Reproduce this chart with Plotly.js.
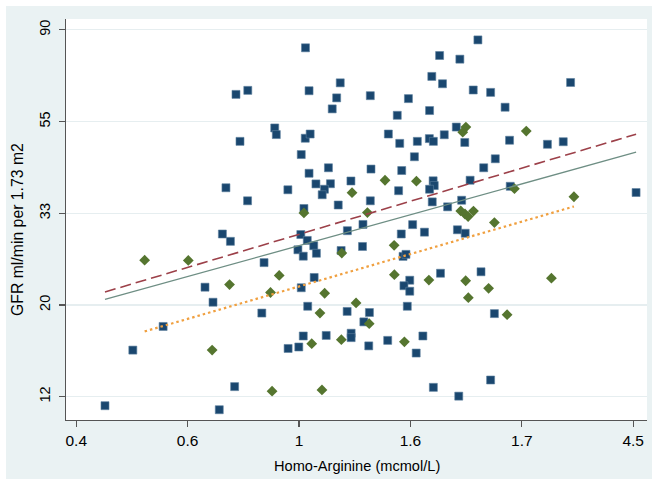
<!DOCTYPE html>
<html>
<head>
<meta charset="utf-8">
<script src="https://cdn.plot.ly/plotly-3.0.1.min.js"></script>
<style>
html,body{margin:0;padding:0;background:#ffffff;width:658px;height:486px;overflow:hidden;}
#chart{position:absolute;left:6px;top:6px;width:646px;height:473px;}
</style>
</head>
<body>
<div id="chart"></div>
<script>
// Axes are natural-log scales: ln(Homo-Arginine) and ln(GFR); tick labels show exp values.
var xTickVals = [-1, -0.5, 0, 0.5, 1, 1.5];
var xTickText = ['0.4', '0.6', '1', '1.6', '1.7', '4.5'];
var yTickVals = [2.5, 3, 3.5, 4, 4.5];
var yTickText = ['12', '20', '33', '55', '90'];
var xTitle = 'Homo-Arginine (mcmol/L)';
var yTitle = 'GFR ml/min per 1.73 m2';

// Group 1 (navy squares): ln(Homo-Arginine), ln(GFR)
var navyLnHArg = [
  0.029,-0.283,-0.230,0.045,0.185,0.169,0.149,0.320,-0.109,-0.102,
  -0.265,0.028,0.050,0.010,0.045,0.132,0.323,0.076,0.141,0.114,
  0.104,0.233,-0.328,-0.231,-0.050,0.176,0.320,0.022,0.803,0.631,
  0.722,0.596,0.644,0.782,0.860,0.491,0.925,0.441,0.586,1.219,
  0.401,0.452,0.531,0.585,0.603,0.652,0.706,0.744,0.945,1.115,
  1.186,0.518,0.461,0.829,0.881,0.602,0.607,0.586,0.768,0.447,
  0.948,1.513,0.598,0.730,0.667,0.510,0.459,0.563,0.711,0.746,
  0.217,0.287,0.285,0.189,-0.344,-0.308,0.008,0.037,0.066,-0.005,
  0.019,0.078,-0.157,-0.422,-0.386,0.010,0.068,0.039,-0.167,-0.610,
  -0.746,-0.049,-0.001,0.019,0.122,-0.289,-0.871,-0.358,0.216,0.316,
  0.291,0.234,0.234,0.313,0.398,0.467,0.480,0.635,0.817,0.497,
  0.471,0.497,0.486,0.877,0.556,0.526,0.603,0.860,0.717
];
var navyLnGFR = [
  4.402,4.148,4.170,4.168,4.211,4.129,4.069,4.141,3.965,3.929,
  3.892,3.909,3.932,3.820,3.718,3.748,3.741,3.660,3.661,3.631,
  3.601,3.676,3.639,3.568,3.628,3.545,3.568,3.526,4.445,4.360,
  4.340,4.246,4.206,4.172,4.159,4.125,4.078,4.034,4.060,4.213,
  3.932,3.881,3.892,3.907,3.892,3.928,3.970,3.886,3.898,3.876,
  3.890,3.808,3.733,3.748,3.797,3.677,3.651,3.631,3.680,3.623,
  3.647,3.613,3.562,3.571,3.535,3.438,3.387,3.397,3.410,3.391,
  3.405,3.439,3.319,3.297,3.387,3.347,3.384,3.352,3.323,3.301,
  3.266,3.282,3.231,3.097,3.015,3.094,3.150,2.993,2.956,2.883,
  2.754,2.763,2.771,2.831,2.834,2.555,2.451,2.429,2.965,2.959,
  2.908,2.846,2.822,2.777,2.807,3.265,3.276,3.173,3.181,3.135,
  3.105,3.075,2.993,2.953,2.831,2.738,2.551,2.591,2.503
];

// Group 2 (green diamonds): ln(Homo-Arginine), ln(GFR)
var greenLnHArg = [
  0.022,0.238,0.386,0.527,0.307,0.749,0.735,1.020,0.967,0.726,
  0.745,0.783,0.759,0.877,1.234,0.427,0.192,-0.693,-0.497,-0.089,
  -0.312,-0.128,0.115,0.094,-0.390,0.057,-0.121,0.103,0.256,0.315,
  0.190,0.428,0.583,0.748,0.851,0.760,0.934,0.473,1.133
];
var greenLnGFR = [
  3.502,3.612,3.680,3.675,3.504,3.970,3.942,3.948,3.634,3.513,
  3.496,3.512,3.482,3.449,3.590,3.325,3.283,3.244,3.243,3.161,
  3.111,3.068,3.064,2.956,2.754,2.789,2.530,2.537,3.011,2.898,
  2.811,3.165,3.136,3.132,3.091,3.040,2.947,2.799,3.146
];

// Linear fits (endpoints in ln units)
var fitNavyX = [-0.871, 1.513];
var fitNavyY = [3.071, 3.931];
var fitAllX = [-0.871, 1.513];
var fitAllY = [3.030, 3.833];
var fitGreenX = [-0.693, 1.234];
var fitGreenY = [2.856, 3.537];

var traces = [
  {x: navyLnHArg, y: navyLnGFR, type: 'scatter', mode: 'markers',
   marker: {symbol: 'square', size: 8, color: '#1a476f', line: {width: 0.6, color: '#5d7f9e'}},
   hoverinfo: 'x+y', showlegend: false},
  {x: greenLnHArg, y: greenLnGFR, type: 'scatter', mode: 'markers',
   marker: {symbol: 'diamond', size: 8.3, color: '#55752f', line: {width: 0}},
   hoverinfo: 'x+y', showlegend: false},
  {x: fitNavyX, y: fitNavyY, type: 'scatter', mode: 'lines',
   line: {color: '#9c4049', width: 1.6, dash: '11px,5px'}, showlegend: false},
  {x: fitAllX, y: fitAllY, type: 'scatter', mode: 'lines',
   line: {color: '#6e8e84', width: 1.3}, showlegend: false},
  {x: fitGreenX, y: fitGreenY, type: 'scatter', mode: 'lines',
   line: {color: '#f0a040', width: 2.2, dash: '2.5px,3px'}, showlegend: false}
];

var fontFam = '"Liberation Sans", Arial, Helvetica, sans-serif';
var layout = {
  width: 646, height: 473,
  margin: {l: 60, r: 5, t: 13, b: 59},
  paper_bgcolor: '#eaf2f3',
  plot_bgcolor: '#ffffff',
  font: {family: fontFam, size: 13, color: '#000000'},
  showlegend: false,
  xaxis: {
    range: [-1.046, 1.562],
    tickmode: 'array', tickvals: xTickVals, ticktext: xTickText,
    showgrid: false, zeroline: false,
    showline: true, linecolor: '#555555', linewidth: 1.2,
    ticks: 'outside', ticklen: 6, tickcolor: '#555555', tickwidth: 1.2,
    tickfont: {family: fontFam, size: 15.5, color: '#000000'}
  },
  yaxis: {
    range: [2.373, 4.559],
    tickmode: 'array', tickvals: yTickVals, ticktext: yTickText,
    tickangle: -90, ticklabelstandoff: 3,
    showgrid: true, gridcolor: '#e6eef0', gridwidth: 1.2,
    zeroline: false,
    showline: true, linecolor: '#555555', linewidth: 1.2,
    ticks: 'outside', ticklen: 6, tickcolor: '#555555', tickwidth: 1.2,
    tickfont: {family: fontFam, size: 14.5, color: '#000000'}
  },
  annotations: [
    {text: xTitle, xref: 'paper', yref: 'paper', x: 0.5, y: -0.1147,
     xanchor: 'center', yanchor: 'middle', showarrow: false,
     font: {family: fontFam, size: 14.6, color: '#000000'}},
    {text: yTitle, xref: 'paper', yref: 'paper', x: -0.0843, y: 0.4738,
     xanchor: 'center', yanchor: 'middle', showarrow: false, textangle: -90,
     font: {family: fontFam, size: 15.8, color: '#000000'}}
  ]
};

Plotly.newPlot('chart', traces, layout, {displayModeBar: false, staticPlot: true});
</script>
</body>
</html>
